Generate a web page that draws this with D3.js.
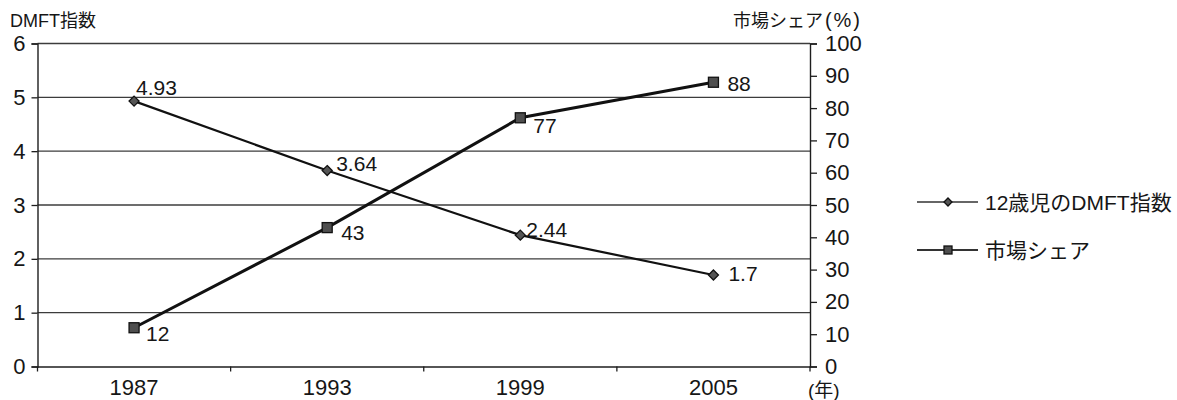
<!DOCTYPE html>
<html>
<head>
<meta charset="utf-8">
<script src="https://cdn.jsdelivr.net/npm/d3@7"></script>
<style>
  html, body { margin: 0; padding: 0; background: #fff; }
  svg { display: block; }
  text { font-family: "Liberation Sans", Arial, "Noto Sans CJK JP", sans-serif; fill: #161616; }
</style>
</head>
<body>
<svg id="chart" width="1177" height="400"></svg>
<script>
// Years on the category axis
const years = ["1987", "1993", "1999", "2005"];
// DMFT index of 12-year-olds (left axis)
const dmft = [4.93, 3.64, 2.44, 1.7];
// Market share in percent (right axis)
const share = [12, 43, 77, 88];
// Axis ticks
const leftTicks = [0, 1, 2, 3, 4, 5, 6];
const rightTicks = [0, 10, 20, 30, 40, 50, 60, 70, 80, 90, 100];
// Titles and legend text
const leftTitle = "DMFT指数";
const rightTitle = "市場シェア";
const rightUnit = "(%)";
const xUnit = "(年)";
const seriesNames = ["12歳児のDMFT指数", "市場シェア"];

// Label offsets (dx, dy) next to each marker
const dmftLabelOffset = [[2, -6], [9, 0], [6, 2], [15, 6]];
const shareLabelOffset = [[12, 13], [14, 12], [13, 15], [14, 9]];

const svg = d3.select("#chart");
const plotL = 37.5, plotR = 810, plotT = 43.5, plotB = 366.5;
const ink = "#1e1e1e";

const x = d3.scaleBand().domain(years).range([plotL, plotR]).padding(0);
const yL = d3.scaleLinear().domain([0, 6]).range([plotB, plotT]);
const yR = d3.scaleLinear().domain([0, 100]).range([plotB, plotT]);
const cx = d => x(d) + x.bandwidth() / 2;

// Horizontal gridlines
svg.append("g")
  .selectAll("line")
  .data(leftTicks.filter(v => v > 0))
  .join("line")
  .attr("x1", plotL).attr("x2", plotR)
  .attr("y1", d => yL(d)).attr("y2", d => yL(d))
  .attr("stroke", "#3c3c3c").attr("stroke-width", 1.4);

// Left axis
const gL = svg.append("g").attr("transform", `translate(${plotL},0)`)
  .call(d3.axisLeft(yL).tickValues(leftTicks).tickSize(6).tickPadding(6).tickFormat(d3.format("d")));
gL.selectAll("text").attr("font-size", 22);
gL.select(".domain").attr("stroke", ink).attr("stroke-width", 1.4);
gL.selectAll(".tick line").attr("stroke", ink).attr("stroke-width", 1.3);

// Right axis
const gR = svg.append("g").attr("transform", `translate(${plotR},0)`)
  .call(d3.axisRight(yR).tickValues(rightTicks).tickSize(7).tickPadding(8).tickFormat(d3.format("d")));
gR.selectAll("text").attr("font-size", 22);
gR.select(".domain").attr("stroke", ink).attr("stroke-width", 1.4);
gR.selectAll(".tick line").attr("stroke", ink).attr("stroke-width", 1.3);

// Bottom axis: labels centred in each category, ticks at category boundaries
const gB = svg.append("g").attr("transform", `translate(0,${plotB})`)
  .call(d3.axisBottom(x).tickSize(0).tickPadding(13));
gB.select(".domain").attr("stroke", ink).attr("stroke-width", 1.4);
gB.selectAll("text").attr("font-size", 22);
const bounds = years.map(d => x(d)).concat([plotR]);
gB.append("g").selectAll("line").data(bounds).join("line")
  .attr("x1", d => d).attr("x2", d => d).attr("y1", 0).attr("y2", 5)
  .attr("stroke", ink).attr("stroke-width", 1.3);

// Axis titles
svg.append("text").attr("x", 10).attr("y", 27).attr("font-size", 18).text(leftTitle);
const rt = svg.append("text").attr("x", 862).attr("y", 27).attr("font-size", 18)
  .attr("text-anchor", "end");
rt.append("tspan").text(rightTitle);
rt.append("tspan").attr("font-size", 20).attr("letter-spacing", 2).attr("dx", 2).text(rightUnit);
svg.append("text").attr("x", 808).attr("y", 397).attr("font-size", 19).text(xUnit);

// Marker shapes
function diamond(g, px, py, s) {
  g.append("path")
    .attr("d", `M${px},${py - s}L${px + s},${py}L${px},${py + s}L${px - s},${py}Z`)
    .attr("fill", "#555").attr("stroke", "#111").attr("stroke-width", 1.3);
}
function square(g, px, py, s) {
  g.append("rect")
    .attr("x", px - s).attr("y", py - s).attr("width", 2 * s).attr("height", 2 * s)
    .attr("fill", "#4e4e4e").attr("stroke", "#111").attr("stroke-width", 1.3);
}

// DMFT series
const lineL = d3.line().x((d, i) => cx(years[i])).y(d => yL(d));
svg.append("path").datum(dmft).attr("d", lineL)
  .attr("fill", "none").attr("stroke", "#111").attr("stroke-width", 2.2);

// Market share series
const lineR = d3.line().x((d, i) => cx(years[i])).y(d => yR(d));
svg.append("path").datum(share).attr("d", lineR)
  .attr("fill", "none").attr("stroke", "#111").attr("stroke-width", 3);

const mk = svg.append("g");
dmft.forEach((v, i) => diamond(mk, cx(years[i]), yL(v), 5));
share.forEach((v, i) => square(mk, cx(years[i]), yR(v), 5));

// Data labels
const lab = svg.append("g");
dmft.forEach((v, i) => {
  lab.append("text")
    .attr("x", cx(years[i]) + dmftLabelOffset[i][0])
    .attr("y", yL(v) + dmftLabelOffset[i][1])
    .attr("font-size", 21).text(v);
});
share.forEach((v, i) => {
  lab.append("text")
    .attr("x", cx(years[i]) + shareLabelOffset[i][0])
    .attr("y", yR(v) + shareLabelOffset[i][1])
    .attr("font-size", 21).text(v);
});

// Legend
const legY = [202, 250];
const leg = svg.append("g");
seriesNames.forEach((name, i) => {
  leg.append("line")
    .attr("x1", 917).attr("x2", 978).attr("y1", legY[i]).attr("y2", legY[i])
    .attr("stroke", "#333").attr("stroke-width", i === 0 ? 1.5 : 2);
  if (i === 0) diamond(leg, 948, legY[i], 4);
  else square(leg, 948, legY[i], 4);
  leg.append("text").attr("x", 985).attr("y", legY[i] + 7.5)
    .attr("font-size", 21).text(name);
});
</script>
</body>
</html>
